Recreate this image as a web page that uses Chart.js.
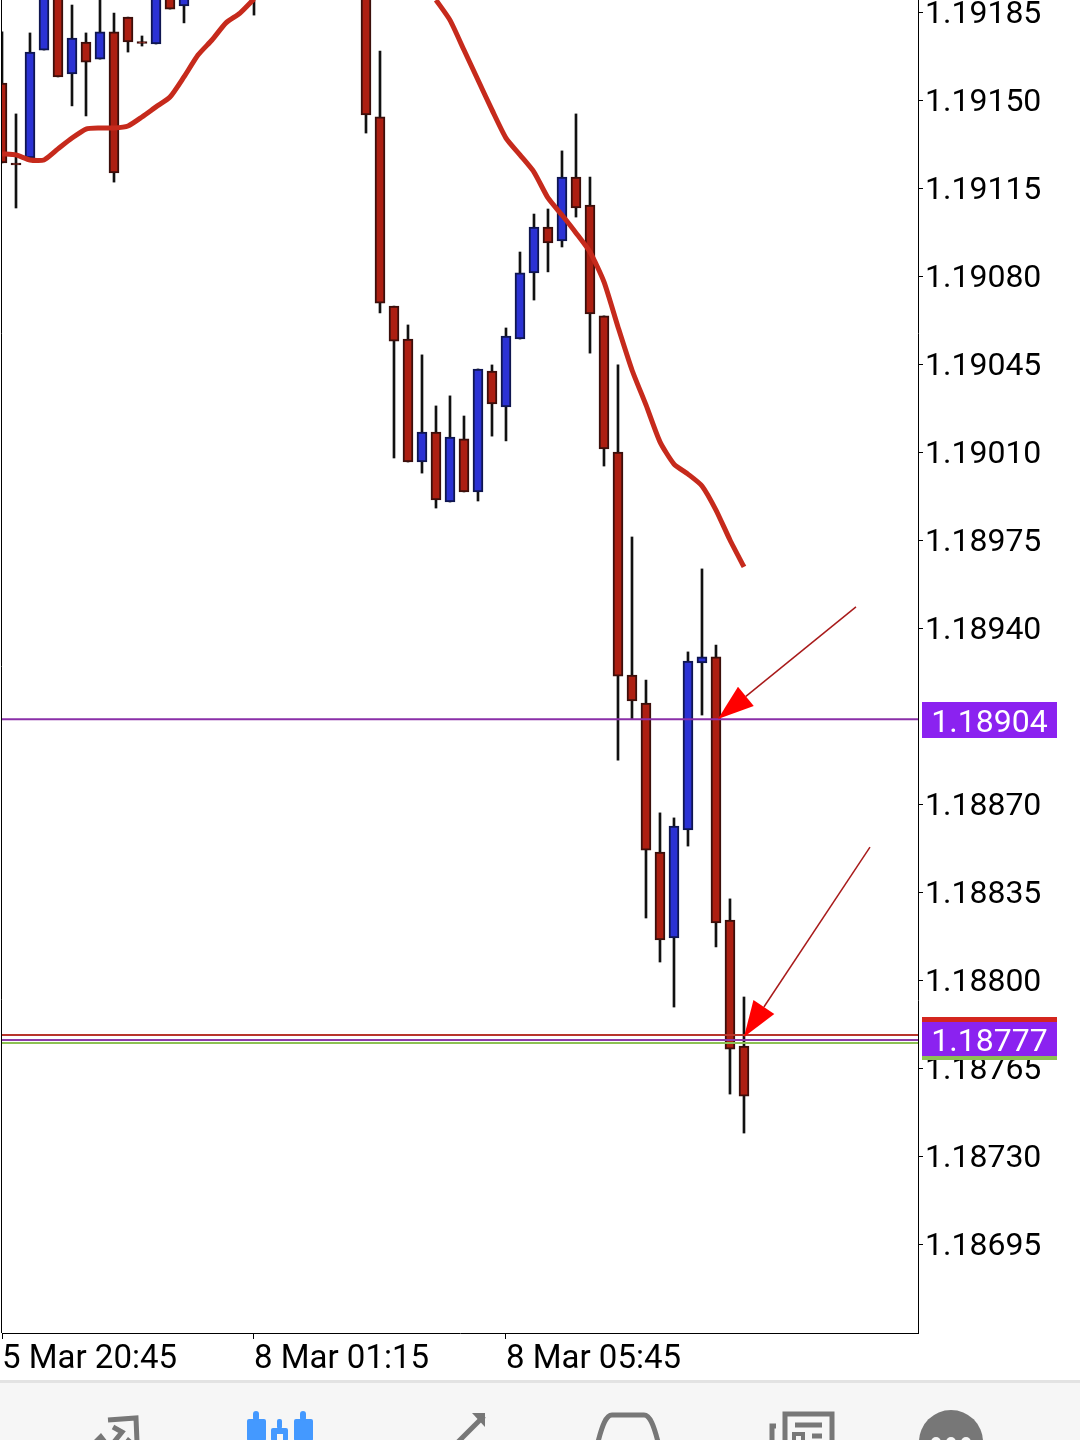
<!DOCTYPE html>
<html>
<head>
<meta charset="utf-8">
<title>EURUSD M15</title>
<script src="https://cdn.jsdelivr.net/npm/chart.js@4"></script>
<style>
  html, body { margin: 0; padding: 0; background: #fff; overflow: hidden; }
  #wrap { position: absolute; left: 0; top: 0; width: 1080px; height: 1380px; }
  #bar { position: absolute; left: 0; top: 1380px; display: block; }
</style>
</head>
<body>
<div id="wrap"><canvas id="myChart" width="1080" height="1380"></canvas></div>

<svg id="bar" width="1080" height="60" viewBox="0 1380 1080 60">
  <rect x="0" y="1380" width="1080" height="60" fill="#f6f6f6"/>
  <rect x="0" y="1380" width="1080" height="3" fill="#e3e3e3"/>
  <g fill="none" stroke="#777" stroke-width="5">
    <path d="M108 1420 L136 1418 L137 1442"/>
    <path d="M113 1427 L122 1432 L114 1442"/>
    <path d="M484 1416 L458 1442"/>
    <path d="M598 1442 C602 1426 606 1415 612 1415 L644 1415 C650 1415 654 1426 658 1442"/>
    <path d="M785 1442 L785 1414 L832 1414 L832 1442"/>
    <path d="M772 1442 L772 1426 L776 1426"/>
    <path d="M795 1425 L822 1425"/>
    <path d="M812 1436 L822 1436"/>
  </g>
  <path d="M472 1413 L485 1413 L485 1427 Z" fill="#777"/>
  <path d="M92 1442 L101 1433 L108 1442 Z M124 1442 L128 1437 L134 1442 Z" fill="#777"/>
  <rect x="794" y="1434" width="9" height="9" fill="none" stroke="#777" stroke-width="4"/>
  <g fill="#4499ff">
    <rect x="247" y="1419" width="19" height="22" rx="2"/><rect x="253" y="1411" width="6" height="10" rx="3"/>
    <rect x="294" y="1419" width="19" height="22" rx="2"/><rect x="300" y="1411" width="6" height="10" rx="3"/>
    <rect x="271" y="1428" width="17" height="13" rx="2"/><rect x="277" y="1419" width="5" height="10" rx="2"/>
  </g>
  <rect x="277" y="1434" width="6" height="8" fill="#f6f6f6"/>
  <circle cx="951" cy="1442" r="32" fill="#777"/>
  <g fill="#f6f6f6"><circle cx="936" cy="1442" r="5"/><circle cx="951" cy="1442" r="5"/><circle cx="966" cy="1442" r="5"/></g>
</svg>

<script>
// candles, one slot per 15 minute bar, null = off the chart
var opens = [1.191570,1.191252,1.191272,1.191701,1.191950,1.191606,1.191733,1.191665,1.191773,1.191832,
  1.191735,1.191725,1.191930,1.191876,null,null,null,null,1.191930,null,
  null,null,null,null,null,null,1.191950,1.191435,1.190683,1.190552,
  1.190063,1.190182,1.189904,1.190155,1.189944,1.190425,1.190282,1.190552,1.190815,1.190997,
  1.190942,1.191196,1.191085,1.190644,1.190103,1.189216,1.189105,1.188512,1.188171,1.188600,
  1.189264,1.189288,1.188242,1.187741];
var highs = [1.191773,1.191447,1.191769,1.191950,1.191960,1.191880,1.191769,1.191910,1.191848,1.191832,
  1.191757,1.191960,1.191940,1.191940,null,null,null,null,1.191940,null,
  null,null,null,null,null,null,1.191960,1.191697,1.190683,1.190608,
  1.190489,1.190286,1.190326,1.190246,1.190433,1.190449,1.190596,1.190898,1.191049,1.191069,
  1.191300,1.191447,1.191196,1.190644,1.190449,1.189765,1.189196,1.188668,1.188648,1.189308,
  1.189638,1.189335,1.188326,1.187936];
var lows = [1.191252,1.191073,1.191272,1.191701,1.191594,1.191479,1.191439,1.191665,1.191176,1.191693,
  1.191717,1.191725,1.191864,1.191809,null,null,null,null,1.191840,null,
  null,null,null,null,null,null,1.191371,1.190656,1.190079,1.190063,
  1.190019,1.189880,1.189904,1.189944,1.189908,1.190166,1.190147,1.190552,1.190707,1.190819,
  1.190918,1.191037,1.190496,1.190047,1.188878,1.189041,1.188250,1.188075,1.187896,1.188536,
  1.189057,1.188135,1.187550,1.187395];
var closes = [1.191252,1.191244,1.191693,1.191940,1.191594,1.191749,1.191653,1.191773,1.191212,1.191733,
  1.191727,1.191950,1.191864,1.191930,null,null,null,null,1.191920,null,
  null,null,null,null,null,null,1.191443,1.190695,1.190544,1.190063,
  1.190182,1.189912,1.190162,1.189944,1.190433,1.190294,1.190564,1.190815,1.190997,1.190934,
  1.191196,1.191073,1.190652,1.190115,1.189212,1.189113,1.188520,1.188163,1.188616,1.189272,
  1.189288,1.188230,1.187729,1.187542];

// moving average, leaves the top of the chart around the hidden bars
var ma = [1.191288,1.191284,1.191264,1.191264,1.191308,1.191351,1.191387,1.191391,1.191391,1.191399,
  1.191435,1.191475,1.191514,1.191594,1.191681,1.191741,1.191809,1.191848,1.191904,null,
  null,null,null,null,null,null,null,null,null,null,
  null,1.191900,1.191820,1.191701,1.191582,1.191463,1.191351,1.191284,1.191216,1.191113,
  1.191045,1.190974,1.190898,1.190779,1.190600,1.190429,1.190290,1.190143,1.190055,1.190015,
  1.189968,1.189872,1.189753,1.189646];

var priceTicks = [1.19185,1.19150,1.19115,1.19080,1.19045,1.19010,1.18975,1.18940,1.18870,1.18835,1.18800,1.18765,1.18730,1.18695];
var timeTicks = [0,18,36];
var timeLabels = ["5 Mar 20:45","8 Mar 01:15","8 Mar 05:45"];

// horizontal levels
var purpleTop = 1.18904;
var redLevel = 1.187785;
var purpleLow = 1.187765;
var greenLevel = 1.187753;

// arrows [tail bar, tail price, tip bar, tip price]
var arrow1 = [61, 1.189487, 51.14, 1.189041];
var arrow2 = [62, 1.188532, 53, 1.187777];

var yMin = 1.1866, yMax = 1.1919;
var xMin = 0, xMax = 65.43;

var RED = "#ad1f12", BLUE = "#2b32d4";

function levelData(v) {
  return [{x: xMin, y: v}, {x: xMax, y: v}];
}

function level(v, color) {
  return {type: "line", data: levelData(v), borderColor: color, borderWidth: 2, pointRadius: 0, order: 1};
}

var wicks = [], bodies = [], maLine = [];
opens.forEach(function (o, i) {
  if (o === null) return;
  wicks.push({x: i, y: [lows[i], highs[i]]});
  bodies.push({x: i, y: [o, closes[i]], up: closes[i] >= o});
});
ma.forEach(function (v, i) {
  maLine.push({x: i, y: v});
});

// frame of the plot, right hand price boxes and the two arrows
var extras = {
  id: "extras",
  beforeDatasetsDraw: function (chart) {
    var a = chart.chartArea, c = chart.ctx;
    c.save();
    c.strokeStyle = "#000";
    c.lineWidth = 1;
    c.beginPath();
    c.moveTo(a.left - 0.5, a.top);
    c.lineTo(a.left - 0.5, a.bottom);
    c.stroke();
    c.restore();
  },
  afterDraw: function (chart) {
    var c = chart.ctx, y = chart.scales.y, x = chart.scales.x;

    function arrow(arr) {
      var x0 = x.getPixelForValue(arr[0]), y0 = y.getPixelForValue(arr[1]);
      var x1 = x.getPixelForValue(arr[2]), y1 = y.getPixelForValue(arr[3]);
      var ang = Math.atan2(y0 - y1, x0 - x1);
      var len = 36, half = 12.5;
      var bx = x1 + Math.cos(ang) * len, by = y1 + Math.sin(ang) * len;
      c.strokeStyle = "#a81a1a";
      c.lineWidth = 1.5;
      c.beginPath(); c.moveTo(x0, y0); c.lineTo(bx, by); c.stroke();
      c.fillStyle = "#ff0000";
      c.beginPath();
      c.moveTo(x1, y1);
      c.lineTo(bx - Math.sin(ang) * half, by + Math.cos(ang) * half);
      c.lineTo(bx + Math.sin(ang) * half, by - Math.cos(ang) * half);
      c.closePath();
      c.fill();
    }

    function box(v, top, bottom, label) {
      var py = Math.round(y.getPixelForValue(v));
      c.fillStyle = "#8b22f0";
      c.fillRect(922, py + top, 135, bottom - top);
      c.fillStyle = "#fff";
      c.font = "32px Roboto";
      c.textAlign = "center";
      c.textBaseline = "middle";
      c.fillText(label, 989.5, py + (top + bottom) / 2 + 3.5);
    }

    c.save();
    arrow(arrow1);
    arrow(arrow2);
    box(purpleTop, -17, 19, "1.18904");
    var py = Math.round(y.getPixelForValue(purpleLow));
    c.fillStyle = "#d4261e";
    c.fillRect(922, py - 23, 135, 6);
    c.fillStyle = "#8cc152";
    c.fillRect(922, py + 15, 135, 5);
    box(purpleLow, -18, 16, "1.18777");
    c.restore();
  }
};

new Chart(document.getElementById("myChart"), {
  type: "bar",
  plugins: [extras],
  data: {
    datasets: [
      {
        label: "wicks",
        data: wicks,
        grouped: false,
        barThickness: 2,
        backgroundColor: "#111",
        order: 5
      },
      {
        label: "bodies",
        data: bodies,
        grouped: false,
        barThickness: 10,
        borderWidth: 2,
        borderSkipped: false,
        minBarLength: 2,
        backgroundColor: function (ctx) { return ctx.raw && ctx.raw.up ? BLUE : RED; },
        borderColor: function (ctx) { return ctx.raw && ctx.raw.up ? "#0f1650" : "#3b0f0b"; },
        order: 4
      },
      {
        type: "line",
        label: "ma",
        data: maLine,
        borderColor: "#c62a1c",
        borderWidth: 5,
        pointRadius: 0,
        spanGaps: false,
        tension: 0.2,
        order: 2
      },
      level(redLevel, "#b8352c"),
      level(purpleLow, "#8c3aa8"),
      level(greenLevel, "#8cc152"),
      level(purpleTop, "#8a2fa8")
    ]
  },
  options: {
    responsive: false,
    animation: false,
    events: [],
    layout: { padding: { left: 2, right: 0, top: 0, bottom: 0 } },
    plugins: { legend: { display: false }, tooltip: { enabled: false }, title: { display: false } },
    scales: {
      x: {
        type: "linear",
        offset: false,
        min: xMin,
        max: xMax,
        afterFit: function (s) { s.height = 47; s.paddingLeft = 0; s.paddingRight = 0; },
        afterBuildTicks: function (s) {
          s.ticks = timeTicks.map(function (v) { return {value: v}; });
        },
        border: { display: true, color: "#000", width: 1 },
        grid: { offset: false, drawOnChartArea: false, color: "#000", tickLength: 6 },
        ticks: {
          autoSkip: false,
          maxRotation: 0,
          color: "#000",
          align: "start",
          padding: 1,
          font: { family: "Roboto", size: 33 },
          callback: function (v) { return timeLabels[timeTicks.indexOf(v)]; }
        }
      },
      y: {
        position: "right",
        min: yMin,
        max: yMax,
        afterFit: function (s) { s.width = 162; s.paddingTop = 0; s.paddingBottom = 0; },
        afterBuildTicks: function (s) {
          s.ticks = priceTicks.map(function (v) { return {value: v}; });
        },
        border: { display: true, color: "#000", width: 1 },
        grid: { drawOnChartArea: false, color: "#000", tickLength: 5 },
        ticks: {
          autoSkip: false,
          color: "#000",
          padding: 2,
          labelOffset: 2.5,
          font: { family: "Roboto", size: 32 },
          callback: function (v) { return v.toFixed(5); }
        }
      }
    }
  }
});
</script>
</body>
</html>
